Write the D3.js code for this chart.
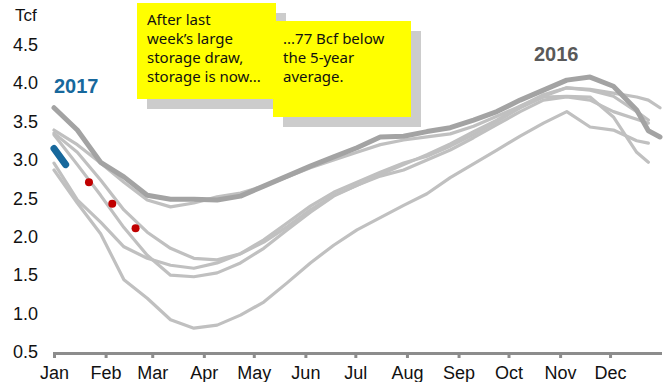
<!DOCTYPE html>
<html>
<head>
<meta charset="utf-8">
<script src="https://cdn.jsdelivr.net/npm/d3@7"></script>
<style>
  html, body { margin: 0; padding: 0; background: #fff; }
  svg { display: block; font-family: Arial, "Liberation Sans", sans-serif; }
</style>
</head>
<body>
<svg id="chart" width="669" height="382"></svg>
<script>
// Working gas in storage, Tcf, sampled by week of year
const weeks = [0,2,4,6,8,10,12,14,16,18,20,22,24,26,28,30,32,34,36,38,40,42,44,46,48,50,51,52];

const s2011 = [2.96,2.48,2.19,1.87,1.72,1.63,1.59,1.66,1.78,1.93,2.13,2.35,2.54,2.67,2.79,2.87,3.00,3.13,3.29,3.46,3.63,3.78,3.82,3.78,3.63,3.53,3.48,null];
const s2012 = [3.39,3.20,2.96,2.71,2.48,2.39,2.44,2.52,2.57,2.66,2.78,2.90,3.00,3.10,3.20,3.26,3.30,3.34,3.44,3.57,3.70,3.83,3.94,3.91,3.83,3.63,3.52,null];
const s2013 = [3.35,3.10,2.74,2.35,2.06,1.85,1.72,1.70,1.78,1.96,2.18,2.40,2.58,2.71,2.84,2.96,3.05,3.18,3.33,3.50,3.68,3.82,3.83,3.82,3.56,3.10,2.97,null];
const s2014 = [2.87,2.44,2.04,1.44,1.20,0.92,0.81,0.85,0.98,1.15,1.40,1.66,1.89,2.09,2.25,2.41,2.56,2.77,2.95,3.13,3.31,3.48,3.63,3.43,3.39,3.25,3.22,null];
const s2015 = [3.33,2.94,2.54,2.12,1.76,1.50,1.48,1.53,1.66,1.85,2.09,2.32,2.53,2.67,2.81,2.94,3.07,3.21,3.37,3.52,3.70,3.85,3.94,3.92,3.87,3.82,3.78,3.68];
const s2016 = [3.68,3.39,2.97,2.78,2.54,2.49,2.49,2.48,2.53,2.66,2.79,2.92,3.04,3.16,3.30,3.31,3.37,3.42,3.52,3.63,3.78,3.91,4.04,4.08,3.96,3.65,3.38,3.30];

// 2017 so far
const weeks2017 = [0, 1];
const s2017 = [3.15, 2.94];

// Projected path for the coming weeks
const projWeeks = [3, 5, 7];
const projValues = [2.71, 2.43, 2.11];

const yTicks = [0.5,1.0,1.5,2.0,2.5,3.0,3.5,4.0,4.5];
const monthFormat = "%b";

const noteLeft = ["After last", "week\u2019s large", "storage draw,", "storage is now..."];
const noteRight = ["...77 Bcf below", "the 5-year", "average."];

const svg = d3.select("#chart");

const yearStart = new Date(2017, 0, 1);
const weekDate = w => d3.timeDay.offset(yearStart, w * 7);

const x = d3.scaleTime()
  .domain([yearStart, new Date(2017, 11, 31)])
  .range([54, 660]);
const y = d3.scaleLinear()
  .domain([0.5, 4.5])
  .range([352, 44.8]);

// Y tick labels (no axis line)
const yAxis = svg.append("g")
  .attr("transform", "translate(38,0)")
  .call(d3.axisLeft(y).tickValues(yTicks).tickFormat(d3.format(".1f")).tickSize(0).tickPadding(0));
yAxis.select(".domain").remove();
yAxis.selectAll("text")
  .attr("font-size", 18)
  .attr("font-family", "Arial, 'Liberation Sans', sans-serif")
  .attr("fill", "#111");

svg.append("text")
  .attr("x", 15).attr("y", 21)
  .attr("font-size", 17)
  .attr("fill", "#111")
  .text("Tcf");

// X axis with month ticks
const xAxis = svg.append("g")
  .attr("transform", "translate(0,353)")
  .call(d3.axisBottom(x)
    .ticks(d3.timeMonth.every(1))
    .tickFormat(d3.timeFormat(monthFormat))
    .tickSize(5).tickSizeOuter(0).tickPadding(8));
xAxis.select(".domain")
  .attr("stroke", "#8c8c8c")
  .attr("stroke-width", 3)
  .attr("stroke-linecap", "square");
xAxis.selectAll(".tick line")
  .attr("stroke", "#8c8c8c")
  .attr("stroke-width", 3);
xAxis.selectAll(".tick text")
  .attr("font-size", 18)
  .attr("font-family", "Arial, 'Liberation Sans', sans-serif")
  .attr("fill", "#111");

// Annotation notes
function note(x0, y0, w, h, lines, firstBaseline) {
  const g = svg.append("g");
  g.append("rect").attr("x", x0 + 10).attr("y", y0 + 10).attr("width", w).attr("height", h).attr("fill", "#cccccc");
  g.append("rect").attr("x", x0).attr("y", y0).attr("width", w).attr("height", h).attr("fill", "#ffff00");
  g.selectAll("text").data(lines).join("text")
    .attr("x", x0 + 10)
    .attr("y", (d, i) => firstBaseline + i * 19)
    .attr("font-family", "'Noto Sans', 'Open Sans', sans-serif")
    .attr("font-size", 15)
    .attr("fill", "#111")
    .text(d => d);
}
note(137, 3, 139, 96, noteLeft, 25);
note(273, 21, 138, 96, noteRight, 44);

// Series lines
const line = d3.line()
  .defined(d => d.v != null)
  .x(d => x(weekDate(d.w)))
  .y(d => y(d.v));

const pts = arr => weeks.map((w, i) => ({ w, v: arr[i] }));

const lightSeries = [s2011, s2012, s2013, s2014, s2015];
svg.append("g").selectAll("path").data(lightSeries).join("path")
  .attr("d", d => line(pts(d)))
  .attr("fill", "none")
  .attr("stroke", "#c0c0c0")
  .attr("stroke-width", 3.2)
  .attr("stroke-linejoin", "round")
  .attr("stroke-linecap", "round");

svg.append("path")
  .attr("d", line(pts(s2016)))
  .attr("fill", "none")
  .attr("stroke", "#a3a3a3")
  .attr("stroke-width", 5)
  .attr("stroke-linejoin", "round")
  .attr("stroke-linecap", "round");

svg.append("path")
  .attr("d", line(weeks2017.map((w, i) => ({ w, v: s2017[i] }))))
  .attr("fill", "none")
  .attr("stroke", "#17689c")
  .attr("stroke-width", 7)
  .attr("stroke-linecap", "round");

svg.append("g").selectAll("circle").data(projWeeks.map((w, i) => ({ w, v: projValues[i] }))).join("circle")
  .attr("cx", d => x(weekDate(d.w)))
  .attr("cy", d => y(d.v))
  .attr("r", 4)
  .attr("fill", "#c00000");

// Year labels
svg.append("text")
  .attr("x", 54).attr("y", 93)
  .attr("font-size", 20).attr("font-weight", "bold")
  .attr("fill", "#17689c")
  .text("2017");
svg.append("text")
  .attr("x", 534).attr("y", 61)
  .attr("font-size", 20).attr("font-weight", "bold")
  .attr("fill", "#595959")
  .text("2016");
</script>
</body>
</html>
